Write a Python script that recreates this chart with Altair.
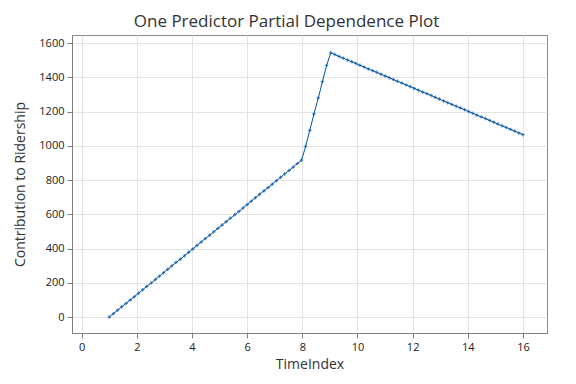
import altair as alt
import pandas as pd

time_index = [1.00, 1.15, 1.30, 1.45, 1.61, 1.76, 1.91, 2.06, 2.21, 2.36,
              2.52, 2.67, 2.82, 2.97, 3.12, 3.27, 3.42, 3.58, 3.73, 3.88,
              4.03, 4.18, 4.33, 4.48, 4.64, 4.79, 4.94, 5.09, 5.24, 5.39,
              5.55, 5.70, 5.85, 6.00, 6.15, 6.30, 6.45, 6.61, 6.76, 6.91,
              7.06, 7.21, 7.36, 7.52, 7.67, 7.82, 7.97, 8.12, 8.27, 8.42,
              8.58, 8.73, 8.88, 9.03, 9.18, 9.33, 9.48, 9.64, 9.79, 9.94,
              10.09, 10.24, 10.39, 10.55, 10.70, 10.85, 11.00, 11.15, 11.30, 11.45,
              11.61, 11.76, 11.91, 12.06, 12.21, 12.36, 12.52, 12.67, 12.82, 12.97,
              13.12, 13.27, 13.42, 13.58, 13.73, 13.88, 14.03, 14.18, 14.33, 14.48,
              14.64, 14.79, 14.94, 15.09, 15.24, 15.39, 15.55, 15.70, 15.85, 16.00]

contribution = [0, 20, 40, 60, 80, 100, 119, 139, 159, 179,
                199, 219, 239, 259, 279, 299, 319, 338, 358, 378,
                398, 418, 438, 458, 478, 498, 518, 537, 557, 577,
                597, 617, 637, 657, 677, 697, 717, 737, 756, 776,
                796, 816, 836, 856, 876, 896, 916, 996, 1090, 1185,
                1280, 1375, 1469, 1543, 1533, 1522, 1512, 1501, 1491, 1481,
                1470, 1460, 1449, 1439, 1429, 1418, 1408, 1398, 1387, 1377,
                1366, 1356, 1346, 1335, 1325, 1314, 1304, 1294, 1283, 1273,
                1262, 1252, 1242, 1231, 1221, 1211, 1200, 1190, 1179, 1169,
                1159, 1148, 1138, 1127, 1117, 1107, 1096, 1086, 1075, 1065]

x_ticks = [0, 2, 4, 6, 8, 10, 12, 14, 16]
y_ticks = [0, 200, 400, 600, 800, 1000, 1200, 1400, 1600]

df = pd.DataFrame({"TimeIndex": time_index, "Contribution": contribution})

FONT = "Open Sans"
BLUE = "#0054A6"

common = dict(titleFontSize=14, titleFontWeight=500, titleColor="#333333",
              labelFontSize=11, labelColor="#1a1a1a", labelPadding=3, tickSize=5,
              tickColor="#7f7f7f", domainColor="#7f7f7f", gridColor="#e3e3e3")

x_enc = alt.X("TimeIndex:Q",
              scale=alt.Scale(domain=[-0.35, 16.87], nice=False, zero=False),
              axis=alt.Axis(title="TimeIndex", values=x_ticks, format="d",
                            titlePadding=5, **common))
y_enc = alt.Y("Contribution:Q",
              scale=alt.Scale(domain=[-93, 1647], nice=False, zero=False),
              axis=alt.Axis(title="Contribution to Ridership", values=y_ticks, format="d",
                            titlePadding=11, **common))

line = alt.Chart(df).mark_line(color=BLUE, strokeWidth=1).encode(x=x_enc, y=y_enc)
pts = alt.Chart(df).mark_point(shape="M-1,0L1,0M0,-1L0,1", color=BLUE, filled=False,
                               strokeWidth=1.2, size=12).encode(x=x_enc, y=y_enc)

chart = (line + pts).properties(
    width=475, height=298,
    title=alt.TitleParams("One Predictor Partial Dependence Plot", fontSize=17,
                          fontWeight=500, color="#333333", font=FONT, offset=4, dx=-23),
).configure(font=FONT).configure_view(stroke="#8a8a8a", strokeWidth=1)

chart.save("out.html", embed_options={"renderer": "svg", "actions": False})
